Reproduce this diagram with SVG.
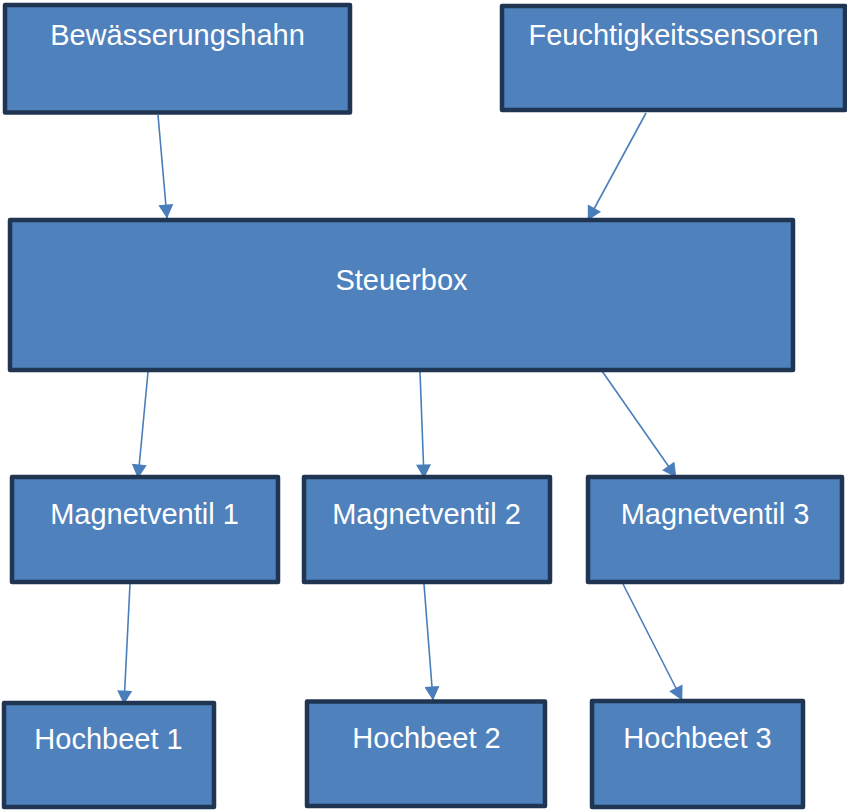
<svg xmlns="http://www.w3.org/2000/svg" width="847" height="810" viewBox="0 0 847 810">
<style>
.box{fill:#4F81BD;stroke:#1F3552;stroke-width:4.5;stroke-linejoin:round}
.lbl{font-family:"Liberation Sans",Arial,sans-serif;font-size:29px;fill:#FFFFFF;text-anchor:middle}
.con{stroke:#4A7EBB;stroke-width:1.6;fill:none}
</style>
<defs>
<marker id="arr" markerUnits="userSpaceOnUse" markerWidth="15" markerHeight="15" viewBox="0 0 14 15" refX="13.5" refY="7.5" orient="auto">
<path d="M0,0 L14,7.5 L0,15 Z" fill="#4A7EBB"/>
</marker>
</defs>
<rect width="847" height="810" fill="#FFFFFF"/>
<g id="connectors">
<line class="con" x1="158" y1="115" x2="167" y2="218" marker-end="url(#arr)"/>
<line class="con" x1="646" y1="113" x2="588" y2="220" marker-end="url(#arr)"/>
<line class="con" x1="148" y1="372" x2="138" y2="478" marker-end="url(#arr)"/>
<line class="con" x1="420" y1="372" x2="424" y2="478" marker-end="url(#arr)"/>
<line class="con" x1="602" y1="371" x2="676" y2="477" marker-end="url(#arr)"/>
<line class="con" x1="130" y1="584" x2="124" y2="704" marker-end="url(#arr)"/>
<line class="con" x1="424" y1="584" x2="433" y2="700" marker-end="url(#arr)"/>
<line class="con" x1="623" y1="584" x2="682" y2="700" marker-end="url(#arr)"/>
</g>
<g id="bewaesserungshahn">
<rect class="box" x="5" y="5" width="345" height="107.5"/>
<text class="lbl" x="177.5" y="45">Bewässerungshahn</text>
</g>
<g id="feuchtigkeitssensoren">
<rect class="box" x="502" y="6" width="343" height="104"/>
<text class="lbl" x="673.5" y="45">Feuchtigkeitssensoren</text>
</g>
<g id="steuerbox">
<rect class="box" x="10" y="220" width="783" height="150"/>
<text class="lbl" x="401.5" y="290">Steuerbox</text>
</g>
<g id="magnetventil1">
<rect class="box" x="12" y="477" width="266" height="105"/>
<text class="lbl" x="144.5" y="524">Magnetventil 1</text>
</g>
<g id="magnetventil2">
<rect class="box" x="304" y="477" width="246" height="105"/>
<text class="lbl" x="426.5" y="524">Magnetventil 2</text>
</g>
<g id="magnetventil3">
<rect class="box" x="588" y="477" width="254" height="105"/>
<text class="lbl" x="715" y="524">Magnetventil 3</text>
</g>
<g id="hochbeet1">
<rect class="box" x="4" y="703" width="210" height="104"/>
<text class="lbl" x="108.5" y="749">Hochbeet 1</text>
</g>
<g id="hochbeet2">
<rect class="box" x="307" y="701.5" width="238" height="104.5"/>
<text class="lbl" x="426.5" y="748">Hochbeet 2</text>
</g>
<g id="hochbeet3">
<rect class="box" x="592" y="701" width="211" height="106"/>
<text class="lbl" x="697.5" y="748">Hochbeet 3</text>
</g>
</svg>
